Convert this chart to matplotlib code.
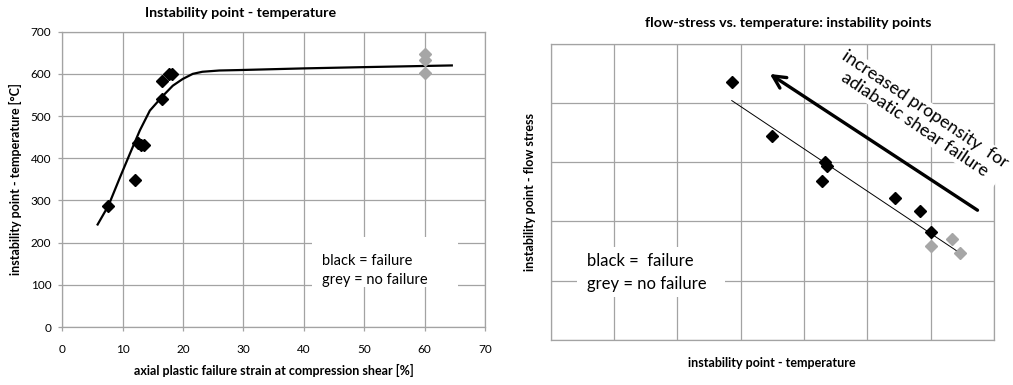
import matplotlib
matplotlib.use("Agg")
import matplotlib.pyplot as plt
from matplotlib.patches import Rectangle

plt.rcParams['font.family'] = ['Lato', 'DejaVu Sans']

# ---- left chart: instability point temperature vs. failure strain ----
strain_fail = [7.65, 11.97, 12.5, 13.0, 13.5, 16.5, 16.56, 17.65, 18.2]
temp_fail = [286, 349, 435, 432, 432, 583, 541, 600, 600]
strain_nofail = [60, 60, 60]
temp_nofail = [646, 633, 601]

fit_strain = [5.85, 7.65, 9.56, 11.2, 12.84, 14.5, 16.6, 18.3, 19.95, 21.6,
              23.2, 26.0, 29.2, 40.0, 50.0, 64.5]
fit_temp = [243, 288, 355, 411, 466, 513, 547, 572, 588, 600,
            605, 608, 609, 613, 616, 620]

x_ticks_left = [0, 10, 20, 30, 40, 50, 60, 70]
y_ticks_left = [0, 100, 200, 300, 400, 500, 600, 700]

# ---- right chart: flow stress vs. temperature (unscaled) ----
temp_r_fail = [2.86, 3.50, 4.33, 4.37, 4.29, 5.44, 5.84, 6.01]
stress_r_fail = [4.35, 3.45, 3.00, 2.94, 2.69, 2.40, 2.17, 1.82]
temp_r_nofail = [6.01, 6.33, 6.46]
stress_r_nofail = [1.59, 1.70, 1.47]
trend_temp = [2.86, 6.46]
trend_stress = [4.04, 1.47]
arrow_tail = (6.74, 2.19)
arrow_head = (3.46, 4.49)

GRID = '#a3a3a3'
GREY_PT = '#a6a6a6'

fig = plt.figure(figsize=(10.13, 3.85), dpi=100)

# left axes
ax1 = fig.add_axes([0.0615, 0.1506, 0.4173, 0.7671])
ax1.set_xlim(0, 70)
ax1.set_ylim(0, 700)
ax1.set_xticks(x_ticks_left)
ax1.set_yticks(y_ticks_left)
ax1.grid(True, color=GRID, lw=0.9)
ax1.set_axisbelow(True)
for s in ax1.spines.values():
    s.set_color(GRID)
    s.set_linewidth(0.9)
ax1.tick_params(axis='both', colors=GRID, length=3, width=0.9, labelsize=8.5,
                labelcolor='black')
ax1.tick_params(axis='x', pad=9)
ax1.tick_params(axis='y', pad=5)
ax1.plot(fit_strain, fit_temp, color='black', lw=1.6, zorder=3)
ax1.plot(strain_fail, temp_fail, ls='none', marker='D', ms=6, color='black', zorder=4)
ax1.plot(strain_nofail, temp_nofail, ls='none', marker='D', ms=6, color=GREY_PT,
         zorder=4)
ax1.add_patch(Rectangle((41.3, 95), 24.2, 118, facecolor='white', edgecolor='none',
                        zorder=2))
ax1.text(43.0, 157, 'black = failure', fontsize=10.5, va='center', ha='left', zorder=5)
ax1.text(43.0, 111, 'grey = no failure', fontsize=10.5, va='center', ha='left', zorder=5)
ax1.set_xlabel('axial plastic failure strain at compression shear [%]',
               fontsize=9, fontweight='bold', labelpad=7)
ax1.set_ylabel('instability point - temperature [°C]', fontsize=9,
               fontweight='bold', labelpad=6)
fig.text(241 / 1013, 1 - 13 / 385, 'Instability point - temperature', ha='center',
         va='center', fontsize=10.3, fontweight='bold')

# right axes
ax2 = fig.add_axes([0.5436, 0.1169, 0.4376, 0.7696])
ax2.set_xlim(0, 7)
ax2.set_ylim(0, 5)
ax2.set_xticks(range(8))
ax2.set_yticks(range(6))
ax2.set_xticklabels([])
ax2.set_yticklabels([])
ax2.tick_params(length=0)
ax2.grid(True, color=GRID, lw=0.9)
ax2.set_axisbelow(True)
for s in ax2.spines.values():
    s.set_color(GRID)
    s.set_linewidth(0.9)
ax2.plot(trend_temp, trend_stress, color='black', lw=0.7, zorder=3)
ax2.plot(temp_r_fail, stress_r_fail, ls='none', marker='D', ms=6, color='black', zorder=4)
ax2.plot(temp_r_nofail, stress_r_nofail, ls='none', marker='D', ms=6, color=GREY_PT,
         zorder=3.5)
ax2.annotate('', xy=arrow_head, xytext=arrow_tail,
             arrowprops=dict(arrowstyle='->,head_length=0.9,head_width=0.45',
                             lw=2.4, color='black', shrinkA=0, shrinkB=0), zorder=5)
ax2.add_patch(Rectangle((0.42, 0.72), 2.33, 0.85, facecolor='white', edgecolor='none',
                        zorder=2))
ax2.text(0.58, 1.33, 'black =  failure', fontsize=12, va='center', ha='left', zorder=5)
ax2.text(0.58, 0.95, 'grey = no failure', fontsize=12, va='center', ha='left', zorder=5)
ax2.text(5.83, 3.76, 'increased propensity  for\nadiabatic shear failure',
         fontsize=13, rotation=-34, rotation_mode='anchor', ha='center',
         va='center', linespacing=1.15, zorder=6, clip_on=False,
         bbox=dict(facecolor='white', edgecolor='none', pad=1))
ax2.set_xlabel('instability point - temperature', fontsize=9, fontweight='bold',
               labelpad=9)
ax2.set_ylabel('instability point - flow stress', fontsize=9, fontweight='bold',
               labelpad=7)
fig.text(788 / 1013, 1 - 23 / 385, 'flow-stress vs. temperature: instability points',
         ha='center', va='center', fontsize=10.3, fontweight='bold')

fig.savefig('out.png', dpi=100)
